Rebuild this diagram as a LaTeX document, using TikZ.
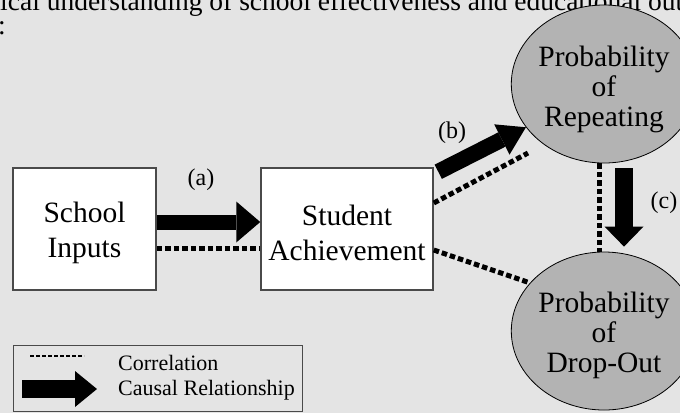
\documentclass[tikz,border=0pt]{standalone}
\usepackage{fontspec}
\setmainfont{Liberation Serif}
\usetikzlibrary{shapes.geometric,arrows.meta}
\definecolor{bgc}{HTML}{E4E4E4}
\definecolor{circfill}{HTML}{B3B3B3}
\definecolor{boxline}{HTML}{4A4A4A}
\newcommand{\topstrut}[1]{\rule{0pt}{#1}}
\begin{document}
\begin{tikzpicture}[x=1pt,y=-1pt,
  box/.style={draw=boxline, line width=1.5pt, fill=white, minimum height=122pt, inner sep=0pt,
    align=center, font=\fontsize{29.5}{35}\selectfont},
  prob/.style={ellipse, draw=black, line width=0.8pt, fill=circfill, minimum width=172pt,
    minimum height=158pt, inner sep=0pt, align=center, font=\fontsize{29.5}{30}\selectfont},
  fat/.style n args={3}{draw=black, line width=#1, -{Triangle[length=#2,width=#3,line width=0pt]}},
  corr/.style={draw=black, line width=5pt, dash pattern=on 5.5pt off 3pt},
  lab/.style={inner sep=0pt, font=\fontsize{24}{26}\selectfont},
  legtext/.style={anchor=west, inner sep=0pt, font=\fontsize{22}{24}\selectfont},
  toptext/.style={anchor=base west, inner sep=0pt, font=\fontsize{27.5}{30}\selectfont}]
\useasboundingbox (0,0) rectangle (680,413);
\clip (0,0) rectangle (680,413);
\fill[bgc] (0,0) rectangle (680,413);

% cropped text above
\node[toptext] (top1) at (0,10.5) {ical understanding of school effectiveness and educational out};
\node[toptext] (top2) at (-2,34) {:};

% main nodes
\node[box, minimum width=143pt] (si) at (84.5,229) {\topstrut{28pt}School\\Inputs};
\node[box, minimum width=172pt] (sa) at (347,229) {\topstrut{28pt}Student\\Achievement};
\node[prob] (rep) at (604,84) {\topstrut{32pt}Probability\\of\\Repeating};
\node[prob] (drop) at (604,331) {\topstrut{30pt}Probability\\of\\Drop-Out};

% (a)
\draw[fat={15pt}{24pt}{41pt}] ([yshift=7pt]si.east) -- ([yshift=7pt]sa.west);
\draw[corr] ([yshift=-19pt]si.east) -- ([yshift=-19pt]sa.west);
\node[lab] (la) at (201,180) {(a)};

% (b)
\coordinate (bs) at ([xshift=4.5pt,yshift=-4.5pt]sa.north east);
\draw[fat={16pt}{27pt}{34pt}] (bs) -- (rep.209);
\node[lab] (lb) at (452,133) {(b)};
\coordinate (d2) at (528,153);
\draw[corr] ([yshift=26pt]sa.east) -- (d2);
\draw[corr] ([yshift=-21pt]sa.east) -- (drop.147);

% (c)
\draw[corr] ([xshift=-5pt]rep.south) -- ([xshift=-5pt]drop.north);
\draw[fat={18pt}{20pt}{39pt}] ([xshift=20pt,yshift=-5pt]rep.south) -- ([xshift=20pt,yshift=5pt]drop.north);
\node[lab] (lc) at (664,203) {(c)};

% legend
\node[draw=boxline, line width=1pt, fill=bgc, minimum width=289pt, minimum height=66pt, inner sep=0pt] (leg) at (157.5,378) {};
\coordinate (l1) at (30,356);
\coordinate (l2) at (84,356);
\draw[draw=black, line width=2.5pt, dash pattern=on 4pt off 2pt] (l1) -- (l2);
\coordinate (l3) at (22,389);
\coordinate (l4) at (97,389);
\draw[fat={18pt}{22pt}{36pt}] (l3) -- (l4);
\node[legtext] (t1) at (118,363) {Correlation};
\node[legtext] (t2) at (118,390) {Causal Relationship};
\end{tikzpicture}
\end{document}
